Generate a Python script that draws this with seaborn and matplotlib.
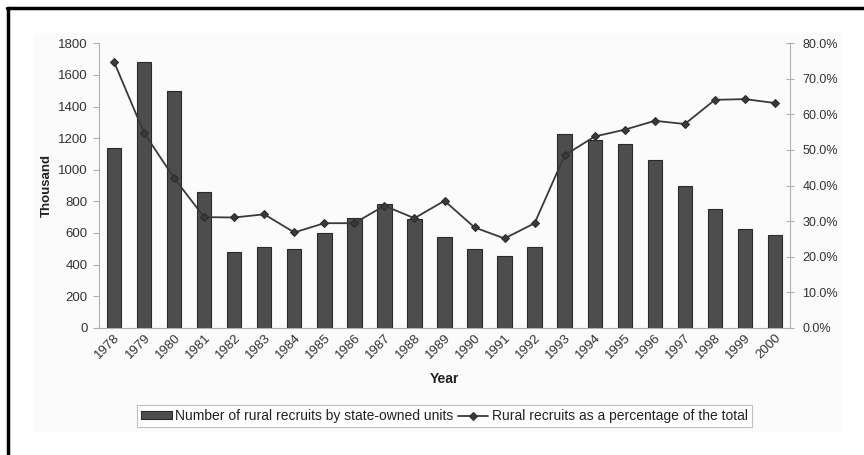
import numpy as np
import pandas as pd
import seaborn as sns
import matplotlib.pyplot as plt
from matplotlib.lines import Line2D
from matplotlib.patches import Rectangle
from matplotlib.ticker import PercentFormatter, FixedLocator

# Data
years = [str(y) for y in range(1978, 2001)]
recruits = [1140, 1680, 1500, 860, 482, 513, 501, 598, 693, 784, 689, 573,
            497, 456, 510, 1226, 1190, 1163, 1063, 894, 753, 624, 586]
pct_rural = [74.8, 54.8, 42.1, 31.1, 31.0, 31.9, 26.8, 29.4, 29.4, 34.3, 30.8, 35.7,
             28.2, 25.1, 29.4, 48.5, 53.8, 55.7, 58.2, 57.3, 64.1, 64.3, 63.2]

bar_label = "Number of rural recruits by state-owned units"
line_label = "Rural recruits as a percentage of the total"

df = pd.DataFrame({"Year": years, "Thousand": recruits, "pct": pct_rural})
df["pos"] = np.arange(len(df))

sns.set_style("white")
plt.rcParams["font.family"] = ["Liberation Sans", "DejaVu Sans"]

fig = plt.figure(figsize=(8.64, 4.55), dpi=100)
fig.patch.set_facecolor("white")

# faint panel behind the chart, plus the scanned border lines
fig.add_artist(Rectangle((33 / 864, 1 - 432 / 455), (842 - 33) / 864, (432 - 33) / 455,
                         transform=fig.transFigure, facecolor="#fbfbfb",
                         edgecolor="none", zorder=-5))
fig.add_artist(Line2D([7 / 864, 1], [1 - 8 / 455, 1 - 8 / 455],
                      transform=fig.transFigure, color="black", lw=2.5))
fig.add_artist(Line2D([8 / 864, 8 / 864], [0, 1 - 8 / 455],
                      transform=fig.transFigure, color="black", lw=2.5))

ax = fig.add_axes([99 / 864, 1 - 327.7 / 455, (790 - 99) / 864, (327.7 - 43.3) / 455])
ax.set_facecolor("none")

sns.barplot(data=df, x="Year", y="Thousand", ax=ax, color="#4d4d4d",
            edgecolor="#2a2a2a", linewidth=0.8, width=0.48, saturation=1,
            label=bar_label)
ax.set_ylim(0, 1800)
ax.set_xlim(-0.5, len(years) - 0.5)
ax.set_yticks(range(0, 1801, 200))

ax2 = ax.twinx()
sns.lineplot(data=df, x="pos", y="pct", ax=ax2, color="#3a3a3a", lw=1.3,
             marker="D", markersize=4.5, markeredgecolor="#2a2a2a",
             label=line_label, legend=False)
ax2.set_ylim(0, 80)
ax2.set_yticks(range(0, 81, 10))
ax2.yaxis.set_major_formatter(PercentFormatter(xmax=100, decimals=1))
ax2.set_ylabel("")

for a in (ax, ax2):
    for s in a.spines.values():
        s.set_visible(False)
ax.spines["left"].set_visible(True)
ax.spines["bottom"].set_visible(True)
ax2.spines["right"].set_visible(True)
for s in (ax.spines["left"], ax.spines["bottom"], ax2.spines["right"]):
    s.set_color("#b0b0b0")
    s.set_linewidth(0.8)

ax.tick_params(axis="y", direction="out", length=4, color="#b0b0b0",
               labelsize=9.5, labelcolor="#333333", pad=4)
ax2.tick_params(axis="y", direction="inout", length=6, color="#b0b0b0",
                labelsize=9, labelcolor="#333333", pad=6)
ax.tick_params(axis="x", which="major", length=0, labelsize=9.5,
               labelcolor="#333333", pad=3)
ax.xaxis.set_minor_locator(FixedLocator(np.arange(-0.5, len(years), 1.0)))
ax.tick_params(axis="x", which="minor", direction="inout", length=6, color="#b0b0b0")
plt.setp(ax.get_xticklabels(), rotation=45, ha="right", rotation_mode="anchor")

ax.set_xlabel("Year", fontsize=10, fontweight="bold", color="#222222", labelpad=8)
ax.set_ylabel("Thousand", fontsize=9.5, fontweight="bold", color="#222222", labelpad=4)

h1, l1 = ax.get_legend_handles_labels()
h2, l2 = ax2.get_legend_handles_labels()
if ax.get_legend():
    ax.get_legend().remove()
leg = fig.legend(h1 + h2, l1 + l2, loc="center", ncol=2,
                 bbox_to_anchor=(444.5 / 864, 1 - 416 / 455), fontsize=10,
                 frameon=True, fancybox=False, edgecolor="#b0b0b0",
                 handlelength=2.2, handleheight=0.5, handletextpad=0.25,
                 columnspacing=0.3, borderpad=0.3)
leg.get_frame().set_linewidth(0.8)
for t in leg.get_texts():
    t.set_color("#222222")

fig.savefig("out.png", dpi=100)
